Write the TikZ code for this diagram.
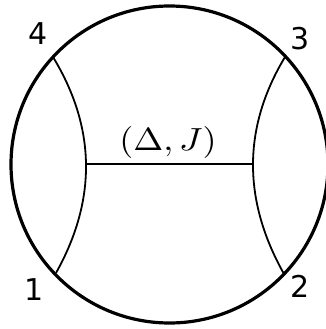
\documentclass[tikz,border=0pt]{standalone}
\usepackage{fontspec}
\newfontfamily\digitfont{DejaVu Sans}
\begin{document}
\begin{tikzpicture}[x=1pt,y=-1pt,
  rim/.style={line width=3.2pt},
  prop/.style={line width=1.8pt},
  ptlabel/.style={inner sep=0pt,anchor=base,font=\digitfont\fontsize{30}{30}\selectfont},
  oplabel/.style={inner sep=0pt,anchor=base}]
\useasboundingbox (0,0) rectangle (325,329);
\coordinate (c) at (169.5,164.5);
\coordinate (p4) at (53,57);
\coordinate (p3) at (285,57);
\coordinate (p1) at (56,273);
\coordinate (p2) at (284,274);
\coordinate (ml) at (86,164);
\coordinate (mr) at (253,164);
\draw[rim] (c) circle[radius=158.5];
\draw[prop] (p4) .. controls (96,127.7) and (97,199.7) .. (p1);
\draw[prop] (p3) .. controls (242.7,127.3) and (242.3,199.7) .. (p2);
\draw[prop] (ml) -- (mr);
\node[oplabel] (op) at (168,150) {\scalebox{3.6}[3.2]{$(\Delta,J)$}};
\node[ptlabel] (l4) at (38.5,45) {4};
\node[ptlabel] (l3) at (300,49) {3};
\node[ptlabel] (l1) at (34,300) {1};
\node[ptlabel] (l2) at (300,297) {2};
\end{tikzpicture}
\end{document}
